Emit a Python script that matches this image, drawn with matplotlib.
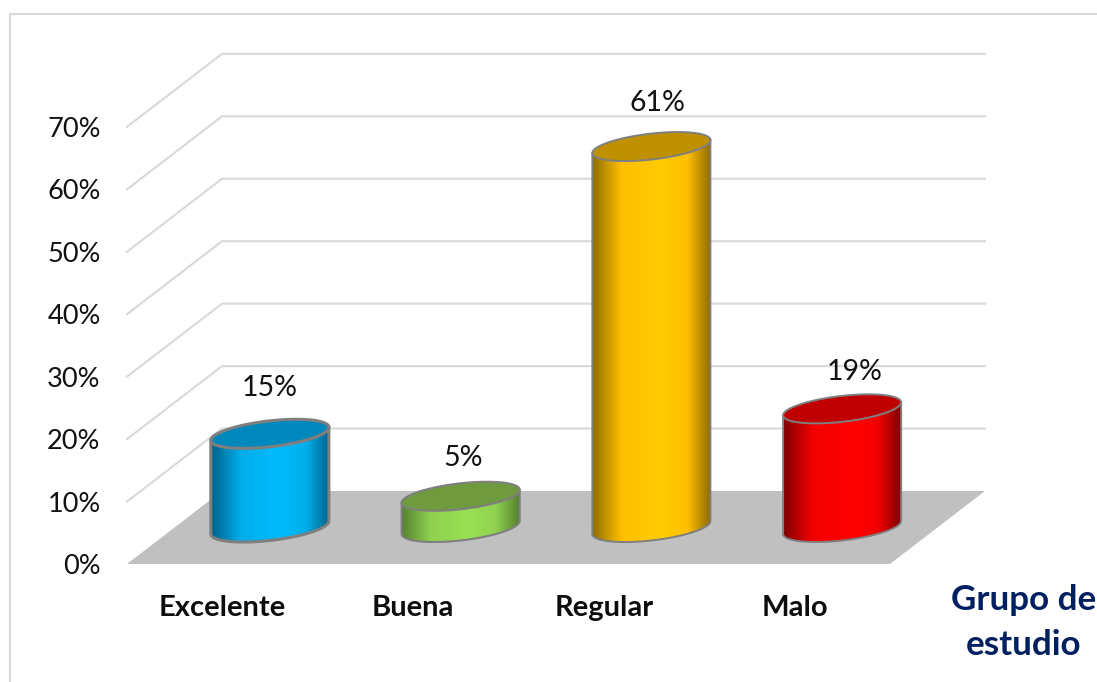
import numpy as np
import matplotlib
matplotlib.use("Agg")
import matplotlib.pyplot as plt
from matplotlib.colors import LinearSegmentedColormap
from matplotlib.lines import Line2D
from matplotlib.patches import Polygon

categories = ["Excelente", "Buena", "Regular", "Malo"]
values = [15, 5, 61, 19]
value_labels = ["15%", "5%", "61%", "19%"]
y_ticks = [0, 10, 20, 30, 40, 50, 60, 70]
y_tick_labels = ["0%", "10%", "20%", "30%", "40%", "50%", "60%", "70%"]
axis_title = "Grupo de\nestudio"

body_dark = ["#00618a", "#557f2e", "#8f6c00", "#7d0000"]
body_mid = ["#00aeea", "#8fd14f", "#ffbf00", "#f20000"]
body_bright = ["#00bbff", "#9ae054", "#ffcc00", "#ff0000"]
top_colors = ["#0087bb", "#6f9a3d", "#bf9000", "#c00000"]
edge_widths = [2.2, 1.5, 1.4, 1.4]
label_offsets_px = [(0, 46), (2, 38), (6, 44), (13, 37)]

W, H = 1097, 682
plt.rcParams["font.family"] = ["Lato", "DejaVu Sans"]
fig = plt.figure(figsize=(W / 100, H / 100), dpi=100)

# Plot box: front-left corner of the floor to the back-right corner of the walls
left_px, right_px, bottom_px, top_px = 127, 985, 564, 53
ax = fig.add_axes([left_px / W, 1 - bottom_px / H,
                   (right_px - left_px) / W, (bottom_px - top_px) / H])
cat_px = 190.75
val_px = 6.245
depth_x_px, depth_y_px = 95, 73
ax.set_xlim(-0.5, -0.5 + (right_px - left_px) / cat_px)
ax.set_ylim(0, (bottom_px - top_px) / val_px)
depth_x = depth_x_px / cat_px
depth_y = depth_y_px / val_px
x0 = -0.5
x1 = 3.5

for s in ax.spines.values():
    s.set_visible(False)
ax.patch.set_alpha(0)

# Walls and floor
for v in y_ticks[1:]:
    ax.plot([x0, x0 + depth_x, x1 + depth_x], [v, v + depth_y, v + depth_y],
            color="#d9d9d9", lw=1.5, zorder=1, clip_on=False,
            solid_joinstyle="miter")
ax.add_patch(Polygon([(x0, 0), (x1, 0), (x1 + depth_x, depth_y), (x0 + depth_x, depth_y)],
                     closed=True, fc="#c0c0c0", ec="none", zorder=2))

# Cylinders
a_px, b_px, theta = 59.4, 12.9, np.deg2rad(6.6)
ux, uy = np.cos(theta), np.sin(theta)
vx, vy = -np.sin(theta), np.cos(theta)
t_right = np.arctan2(b_px * vx, a_px * ux)


def ring(cx, cy, t):
    px = a_px * np.cos(t) * ux + b_px * np.sin(t) * vx
    py = a_px * np.cos(t) * uy + b_px * np.sin(t) * vy
    return np.column_stack([cx + px / cat_px, cy + py / val_px])


grad = np.linspace(0, 1, 256)[None, :]
for i, val in enumerate(values):
    cx = i + depth_x / 2
    base = depth_y / 2
    top = base + val
    # lower arc from the right tangent point round to the left tangent point
    low = np.linspace(t_right, t_right - np.pi, 100)
    outline = np.vstack([ring(cx, top, low[:1]),
                         ring(cx, base, low),
                         ring(cx, top, low[-1:])])
    body = Polygon(outline, closed=True, fc="none", ec="#7f7f7f",
                   lw=edge_widths[i], zorder=5, clip_on=False)
    ax.add_patch(body)
    cmap = LinearSegmentedColormap.from_list(
        f"c{i}", [(0, body_dark[i]), (0.25, body_mid[i]), (0.58, body_bright[i]),
                  (0.8, body_mid[i]), (1, body_dark[i])])
    half = 59.2 / cat_px
    im = ax.imshow(grad, cmap=cmap, aspect="auto", zorder=4,
                   extent=(cx - half, cx + half, 0, top + 3))
    im.set_clip_path(Polygon(outline, closed=True, transform=ax.transData))
    ax.add_patch(Polygon(ring(cx, top, np.linspace(0, 2 * np.pi, 200)), closed=True,
                         fc=top_colors[i], ec="#7f7f7f", lw=edge_widths[i],
                         zorder=6, clip_on=False))
    dx, dy = label_offsets_px[i]
    ax.annotate(value_labels[i], (cx, top), xytext=(dx * 0.72, dy * 0.72),
                textcoords="offset points", ha="center", va="center",
                fontsize=20.5, color="#111111", zorder=7)

ax.set_xlim(-0.5, -0.5 + (right_px - left_px) / cat_px)
ax.set_ylim(0, (bottom_px - top_px) / val_px)

ax.set_yticks(y_ticks, y_tick_labels, fontsize=19.5, color="#111111")
ax.set_xticks(range(len(categories)), categories, fontsize=21,
              fontweight="bold", color="#0d0d0d")
ax.tick_params(axis="both", length=0)
ax.tick_params(axis="y", pad=19)
ax.tick_params(axis="x", pad=22)

ax.text((1024 - left_px) / (right_px - left_px), 1 - (622 - top_px) / (bottom_px - top_px),
        axis_title, transform=ax.transAxes, ha="center", va="center",
        fontsize=25.2, fontweight="bold", color="#002060", linespacing=1.5, clip_on=False)

# Chart-area frame, cut off by the image on the right and at the bottom
frame_x, frame_y = 9.5 / W, 1 - 14 / H
fig.add_artist(Line2D([frame_x, frame_x, 1], [0, frame_y, frame_y],
                      transform=fig.transFigure, color="#d9d9d9", lw=1.5))

fig.savefig("out.png", dpi=100)
